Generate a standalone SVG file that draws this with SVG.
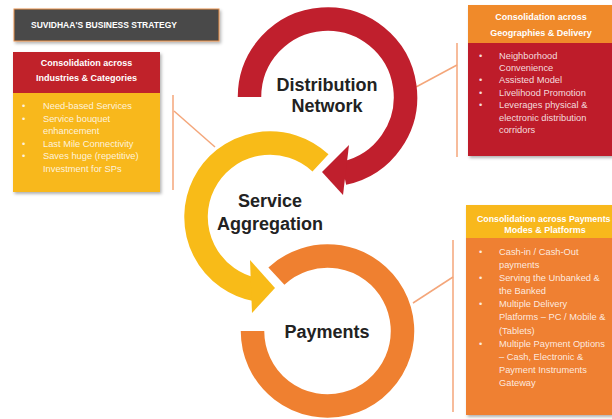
<svg xmlns="http://www.w3.org/2000/svg" width="612" height="419" viewBox="0 0 612 419">
<defs>
<filter id="sh" x="-10%" y="-10%" width="130%" height="130%">
<feDropShadow dx="1.5" dy="2" stdDeviation="1.5" flood-color="#000" flood-opacity="0.3"/>
</filter>
</defs>
<style>
.hd{font-family:"Liberation Sans",Arial,sans-serif;font-size:9px;font-weight:bold;fill:#fff;text-anchor:middle}
.bd{font-family:"Liberation Sans",Arial,sans-serif;font-size:9.3px;fill:#fff;fill-opacity:0.85}
.big{font-family:"Liberation Sans",Arial,sans-serif;font-size:18px;font-weight:bold;fill:#222;text-anchor:middle}
.ring{fill:none;stroke-width:23.5;stroke-linecap:butt}
.con{stroke:#f4a67a;stroke-width:1.5;fill:none}
</style>
<rect width="612" height="419" fill="#fff"/>

<g id="connectors">
<line class="con" x1="173" y1="95" x2="173" y2="190"/>
<line class="con" x1="174" y1="111" x2="215" y2="147"/>
<line class="con" x1="457" y1="43" x2="457" y2="157"/>
<line class="con" x1="457" y1="65" x2="416" y2="87"/>
<line class="con" x1="453" y1="240" x2="453" y2="412"/>
<line class="con" x1="453" y1="277" x2="413" y2="303"/>
</g>

<g id="title">
<rect x="14" y="9" width="205" height="32" fill="#4a4a4a" stroke="#e8904a" stroke-width="1" filter="url(#sh)"/>
<text x="31" y="28" font-family="'Liberation Sans',Arial,sans-serif" font-size="8.5" font-weight="bold" fill="#fff">SUVIDHAA'S BUSINESS STRATEGY</text>
</g>

<g id="box-industries">
<g filter="url(#sh)">
<rect x="13" y="52" width="147" height="41" fill="#c0212c"/>
<rect x="13" y="93" width="147" height="99" fill="#f8b81b"/>
</g>
<text class="hd" x="86.5" y="65.5">Consolidation across</text>
<text class="hd" x="86.5" y="80.5">Industries &amp; Categories</text>
<g class="bd">
<text x="22" y="109">•</text><text x="43" y="109">Need-based Services</text>
<text x="22" y="121.6">•</text><text x="43" y="121.6">Service bouquet</text>
<text x="43" y="134.2">enhancement</text>
<text x="22" y="146.8">•</text><text x="43" y="146.8">Last Mile Connectivity</text>
<text x="22" y="159.4">•</text><text x="43" y="159.4">Saves huge (repetitive)</text>
<text x="43" y="172">Investment for SPs</text>
</g>
</g>

<g id="box-geographies">
<g filter="url(#sh)">
<rect x="468" y="5" width="144" height="38" fill="#f08a2c"/>
<rect x="468" y="43" width="144" height="113" fill="#be1e2c"/>
</g>
<text class="hd" x="541" y="20">Consolidation across</text>
<text class="hd" x="541" y="36">Geographies &amp; Delivery</text>
<g class="bd">
<text x="479" y="58.5">•</text><text x="499" y="58.5">Neighborhood</text>
<text x="499" y="70.9">Convenience</text>
<text x="479" y="83.3">•</text><text x="499" y="83.3">Assisted Model</text>
<text x="479" y="95.7">•</text><text x="499" y="95.7">Livelihood Promotion</text>
<text x="479" y="108.1">•</text><text x="499" y="108.1">Leverages physical &amp;</text>
<text x="499" y="120.5">electronic distribution</text>
<text x="499" y="132.9">corridors</text>
</g>
</g>

<g id="box-payments">
<g filter="url(#sh)">
<rect x="466" y="205" width="146" height="33" fill="#f8b81b"/>
<rect x="466" y="238" width="146" height="177" fill="#ef8030"/>
</g>
<text x="477" y="222" font-family="'Liberation Sans',Arial,sans-serif" font-size="8.8" font-weight="bold" fill="#fff">Consolidation across Payments</text>
<text class="hd" x="545" y="232.5">Modes &amp; Platforms</text>
<g class="bd">
<text x="479" y="255">•</text><text x="499" y="255">Cash-in / Cash-Out</text>
<text x="499" y="268">payments</text>
<text x="479" y="281">•</text><text x="499" y="281">Serving the Unbanked &amp;</text>
<text x="499" y="294.2">the Banked</text>
<text x="479" y="307.3">•</text><text x="499" y="307.3">Multiple Delivery</text>
<text x="499" y="320.4">Platforms – PC / Mobile &amp;</text>
<text x="499" y="333.5">(Tablets)</text>
<text x="479" y="346.6">•</text><text x="499" y="346.6">Multiple Payment Options</text>
<text x="499" y="359.7">– Cash, Electronic &amp;</text>
<text x="499" y="372.8">Payment Instruments</text>
<text x="499" y="385.9">Gateway</text>
</g>
</g>

<g id="ring-distribution">
<path class="ring" stroke="#c01f2d" d="M 249.5 97 A 78 78 0 1 1 343.7 173.3"/>
<polygon fill="#c01f2d" points="349,145 322,172 343,195"/>
<text class="big" x="327" y="91">Distribution</text>
<text class="big" x="327" y="112">Network</text>
</g>

<g id="ring-payments">
<path class="ring" stroke="#ef8030" stroke-width="24.5" d="M 276.4 276.1 A 75 75 0 1 1 252.5 331"/>
<text class="big" x="327" y="338">Payments</text>
</g>

<g id="ring-service">
<path class="ring" stroke="#f8bb18" d="M 320.5 162.9 A 74 74 0 1 0 257.2 289.9"/>
<polygon fill="#f8bb18" points="250,260 275,288 252,313"/>
<text class="big" x="270" y="207">Service</text>
<text class="big" x="270" y="230">Aggregation</text>
</g>
</svg>
